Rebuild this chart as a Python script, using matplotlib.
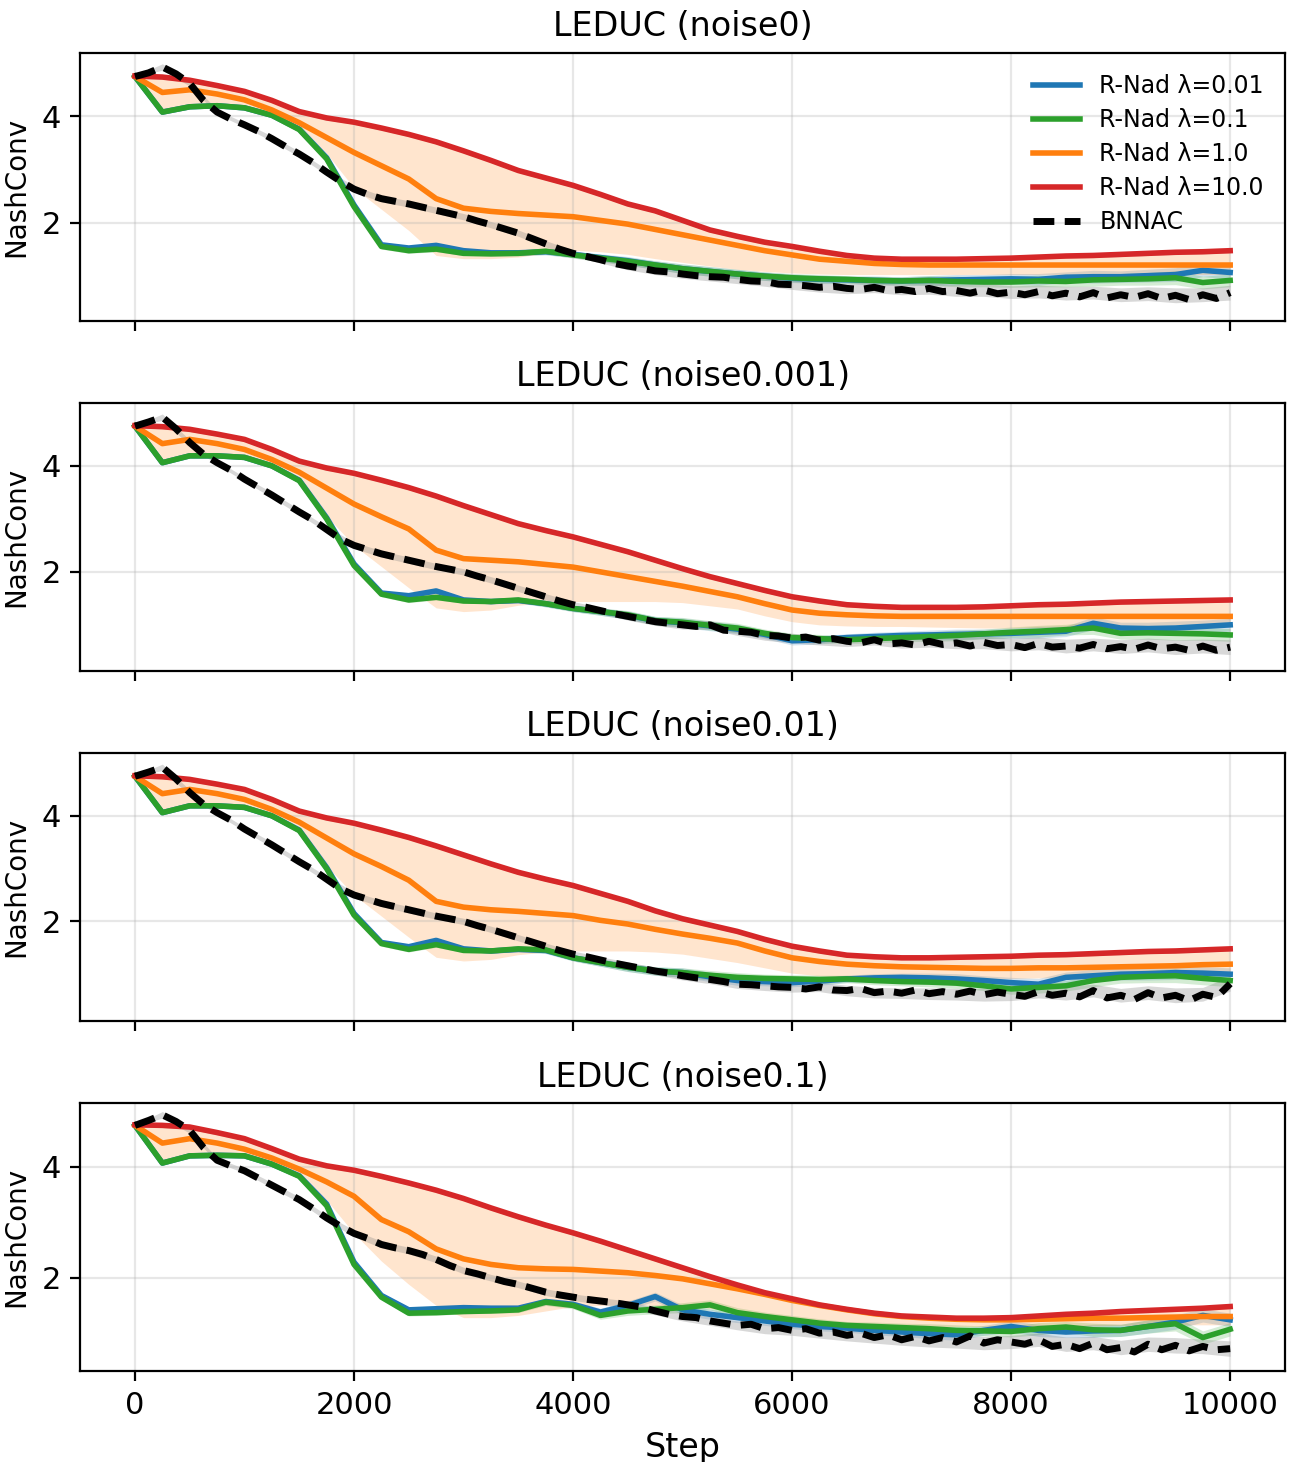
import numpy as np
import matplotlib
matplotlib.use("Agg")
import matplotlib.pyplot as plt

# steps: every 250 for the R-Nad curves, every 125 for BNNAC (it is noisier)
steps = list(range(0, 10001, 250))
steps_fine = list(range(0, 10001, 125))

titles = ["LEDUC (noise0)", "LEDUC (noise0.001)", "LEDUC (noise0.01)", "LEDUC (noise0.1)"]
labels = ["R-Nad λ=0.01", "R-Nad λ=0.1", "R-Nad λ=1.0", "R-Nad λ=10.0", "BNNAC"]

# ---- noise0 ----
blue_n0 = [4.75, 4.08, 4.18, 4.20, 4.16, 4.02, 3.76, 3.22, 2.33, 1.58,
           1.52, 1.57, 1.47, 1.43, 1.43, 1.45, 1.40, 1.34, 1.28, 1.20,
           1.13, 1.08, 1.03, 0.99, 0.95, 0.93, 0.92, 0.91, 0.90, 0.91,
           0.92, 0.93, 0.94, 0.93, 0.97, 0.98, 0.98, 1.00, 1.02, 1.10, 1.06]
green_n0 = [4.75, 4.08, 4.18, 4.20, 4.16, 4.02, 3.75, 3.20, 2.30, 1.55,
            1.47, 1.50, 1.42, 1.41, 1.42, 1.46, 1.39, 1.33, 1.27, 1.20,
            1.13, 1.08, 1.03, 0.99, 0.96, 0.94, 0.93, 0.91, 0.90, 0.91,
            0.89, 0.88, 0.88, 0.90, 0.89, 0.92, 0.93, 0.94, 0.96, 0.87, 0.91]
orange_n0 = [4.75, 4.45, 4.50, 4.42, 4.31, 4.12, 3.88, 3.60, 3.32, 3.07,
             2.82, 2.45, 2.27, 2.21, 2.17, 2.14, 2.11, 2.04, 1.97, 1.87,
             1.77, 1.67, 1.57, 1.47, 1.39, 1.31, 1.27, 1.23, 1.21, 1.20,
             1.20, 1.20, 1.20, 1.20, 1.20, 1.20, 1.20, 1.20, 1.20, 1.20, 1.20]
red_n0 = [4.76, 4.74, 4.68, 4.58, 4.47, 4.30, 4.09, 3.97, 3.89, 3.78,
          3.66, 3.52, 3.35, 3.17, 2.98, 2.84, 2.70, 2.53, 2.35, 2.22,
          2.04, 1.86, 1.74, 1.63, 1.55, 1.46, 1.38, 1.33, 1.31, 1.31,
          1.31, 1.32, 1.33, 1.35, 1.37, 1.38, 1.40, 1.42, 1.44, 1.45, 1.47]
bnnac_n0 = [4.75, 4.82, 4.93, 4.80, 4.62, 4.30, 4.08, 3.95, 3.84, 3.72,
            3.58, 3.43, 3.29, 3.13, 2.95, 2.78, 2.63, 2.53, 2.45, 2.40,
            2.35, 2.29, 2.23, 2.17, 2.11, 2.03, 1.96, 1.88, 1.80, 1.70,
            1.60, 1.50, 1.42, 1.36, 1.30, 1.23, 1.18, 1.14, 1.09, 1.07,
            1.03, 1.00, 0.98, 0.97, 0.93, 0.90, 0.89, 0.84, 0.83, 0.81,
            0.78, 0.80, 0.76, 0.74, 0.78, 0.72, 0.74, 0.70, 0.76, 0.70,
            0.72, 0.67, 0.73, 0.66, 0.69, 0.64, 0.70, 0.62, 0.67, 0.60,
            0.68, 0.58, 0.64, 0.59, 0.66, 0.57, 0.63, 0.55, 0.64, 0.57,
            0.68]
orange_lo_n0 = [4.75, 4.10, 4.18, 4.20, 4.16, 4.02, 3.75, 3.30, 2.65, 2.25,
                1.85, 1.38, 1.32, 1.32, 1.35, 1.42, 1.48, 1.45, 1.40, 1.32,
                1.25, 1.18, 1.12, 1.08, 1.05, 1.03, 1.02, 1.02, 1.02, 1.02,
                1.02, 1.02, 1.02, 1.02, 1.02, 1.02, 1.02, 1.02, 1.02, 1.02, 1.02]
orange_hi_n0 = [4.76, 4.74, 4.67, 4.57, 4.45, 4.28, 4.07, 3.95, 3.87, 3.76,
                3.64, 3.50, 3.33, 3.15, 2.96, 2.82, 2.68, 2.51, 2.33, 2.20,
                2.02, 1.84, 1.72, 1.61, 1.52, 1.42, 1.35, 1.31, 1.29, 1.29,
                1.29, 1.30, 1.31, 1.33, 1.35, 1.36, 1.38, 1.40, 1.42, 1.43, 1.45]

# ---- noise0.001 ----
blue_n1 = [4.75, 4.06, 4.19, 4.19, 4.16, 4.00, 3.73, 3.02, 2.15, 1.60,
           1.55, 1.64, 1.47, 1.44, 1.46, 1.40, 1.31, 1.25, 1.18, 1.08,
           1.04, 0.98, 0.92, 0.82, 0.70, 0.72, 0.76, 0.78, 0.80, 0.81,
           0.82, 0.83, 0.84, 0.86, 0.88, 1.03, 0.94, 0.93, 0.94, 0.97, 1.00]
green_n1 = [4.75, 4.06, 4.19, 4.19, 4.16, 4.00, 3.72, 3.00, 2.12, 1.58,
            1.47, 1.52, 1.45, 1.44, 1.47, 1.40, 1.31, 1.25, 1.19, 1.08,
            1.05, 0.99, 0.94, 0.84, 0.76, 0.74, 0.72, 0.74, 0.76, 0.78,
            0.80, 0.83, 0.86, 0.88, 0.91, 0.94, 0.84, 0.85, 0.84, 0.83, 0.81]
orange_n1 = [4.75, 4.42, 4.50, 4.42, 4.31, 4.12, 3.88, 3.58, 3.28, 3.04,
             2.81, 2.41, 2.25, 2.22, 2.19, 2.14, 2.09, 2.00, 1.91, 1.82,
             1.73, 1.63, 1.53, 1.40, 1.28, 1.22, 1.19, 1.17, 1.16, 1.16,
             1.16, 1.16, 1.16, 1.16, 1.16, 1.16, 1.16, 1.16, 1.16, 1.16, 1.16]
red_n1 = [4.76, 4.74, 4.69, 4.60, 4.50, 4.31, 4.09, 3.96, 3.86, 3.73,
          3.59, 3.43, 3.25, 3.08, 2.91, 2.78, 2.66, 2.52, 2.38, 2.22,
          2.06, 1.91, 1.78, 1.65, 1.53, 1.45, 1.38, 1.35, 1.33, 1.33,
          1.33, 1.34, 1.36, 1.38, 1.39, 1.41, 1.43, 1.44, 1.45, 1.46, 1.47]
bnnac_n1 = [4.75, 4.83, 4.92, 4.70, 4.44, 4.22, 4.06, 3.92, 3.75, 3.60,
            3.45, 3.29, 3.13, 2.98, 2.80, 2.62, 2.50, 2.42, 2.34, 2.28,
            2.22, 2.16, 2.10, 2.05, 2.00, 1.92, 1.85, 1.77, 1.69, 1.61,
            1.53, 1.45, 1.38, 1.33, 1.27, 1.21, 1.16, 1.11, 1.06, 1.03,
            1.00, 0.97, 1.00, 0.90, 0.88, 0.86, 0.80, 0.79, 0.75, 0.77,
            0.71, 0.74, 0.69, 0.66, 0.72, 0.64, 0.66, 0.62, 0.69, 0.63,
            0.66, 0.60, 0.67, 0.61, 0.63, 0.57, 0.65, 0.58, 0.60, 0.56,
            0.63, 0.55, 0.59, 0.54, 0.62, 0.55, 0.58, 0.52, 0.60, 0.52,
            0.58]
orange_lo_n1 = [4.75, 4.08, 4.19, 4.19, 4.16, 4.00, 3.72, 3.05, 2.50, 2.10,
                1.70, 1.32, 1.25, 1.28, 1.37, 1.42, 1.44, 1.44, 1.44, 1.44,
                1.42, 1.36, 1.30, 1.17, 1.06, 1.00, 0.98, 0.97, 0.97, 0.96,
                0.95, 0.94, 0.94, 0.95, 0.96, 0.97, 0.98, 0.98, 0.99, 1.00, 1.00]
orange_hi_n1 = [4.76, 4.74, 4.67, 4.58, 4.48, 4.29, 4.07, 3.94, 3.84, 3.71,
                3.57, 3.41, 3.23, 3.06, 2.89, 2.76, 2.64, 2.50, 2.36, 2.20,
                2.04, 1.89, 1.76, 1.63, 1.51, 1.43, 1.36, 1.33, 1.31, 1.31,
                1.31, 1.32, 1.34, 1.36, 1.37, 1.39, 1.41, 1.42, 1.43, 1.44, 1.45]

# ---- noise0.01 ----
blue_n2 = [4.75, 4.06, 4.19, 4.19, 4.16, 4.00, 3.73, 3.02, 2.15, 1.60,
           1.52, 1.64, 1.48, 1.44, 1.47, 1.45, 1.31, 1.22, 1.13, 1.06,
           1.03, 0.95, 0.88, 0.86, 0.84, 0.87, 0.91, 0.93, 0.94, 0.93,
           0.91, 0.88, 0.84, 0.81, 0.94, 0.97, 1.00, 1.01, 1.03, 1.02, 1.00]
green_n2 = [4.75, 4.06, 4.19, 4.19, 4.16, 4.00, 3.72, 3.00, 2.12, 1.58,
            1.47, 1.56, 1.45, 1.44, 1.48, 1.46, 1.31, 1.22, 1.13, 1.06,
            1.03, 0.98, 0.94, 0.92, 0.91, 0.90, 0.91, 0.88, 0.86, 0.85,
            0.83, 0.78, 0.72, 0.75, 0.78, 0.88, 0.94, 0.96, 0.97, 0.92, 0.88]
orange_n2 = [4.75, 4.42, 4.50, 4.42, 4.31, 4.12, 3.88, 3.58, 3.28, 3.04,
             2.78, 2.38, 2.27, 2.22, 2.19, 2.15, 2.11, 2.02, 1.95, 1.85,
             1.76, 1.68, 1.59, 1.44, 1.31, 1.24, 1.19, 1.16, 1.14, 1.13,
             1.12, 1.11, 1.11, 1.12, 1.12, 1.13, 1.14, 1.15, 1.16, 1.18, 1.19]
red_n2 = [4.76, 4.74, 4.69, 4.60, 4.50, 4.31, 4.09, 3.96, 3.86, 3.73,
          3.59, 3.43, 3.26, 3.09, 2.93, 2.80, 2.68, 2.53, 2.38, 2.20,
          2.05, 1.93, 1.81, 1.66, 1.53, 1.44, 1.36, 1.33, 1.31, 1.31,
          1.32, 1.33, 1.34, 1.36, 1.37, 1.39, 1.41, 1.43, 1.44, 1.46, 1.48]
bnnac_n2 = [4.75, 4.83, 4.92, 4.70, 4.44, 4.22, 4.06, 3.92, 3.75, 3.60,
            3.45, 3.29, 3.13, 2.98, 2.80, 2.62, 2.50, 2.42, 2.34, 2.28,
            2.22, 2.16, 2.10, 2.05, 2.00, 1.92, 1.85, 1.77, 1.69, 1.61,
            1.53, 1.45, 1.38, 1.33, 1.27, 1.21, 1.16, 1.11, 1.06, 1.02,
            0.97, 0.93, 0.90, 0.86, 0.81, 0.80, 0.78, 0.76, 0.75, 0.72,
            0.76, 0.70, 0.69, 0.73, 0.65, 0.68, 0.64, 0.70, 0.63, 0.67,
            0.62, 0.68, 0.61, 0.66, 0.62, 0.58, 0.67, 0.60, 0.64, 0.57,
            0.69, 0.55, 0.60, 0.52, 0.65, 0.55, 0.60, 0.50, 0.62, 0.56,
            0.82]
orange_lo_n2 = [4.75, 4.08, 4.19, 4.19, 4.16, 4.00, 3.72, 3.05, 2.50, 2.10,
                1.70, 1.32, 1.25, 1.28, 1.37, 1.42, 1.44, 1.44, 1.44, 1.42,
                1.38, 1.30, 1.22, 1.12, 1.02, 0.97, 0.95, 0.94, 0.94, 0.93,
                0.92, 0.92, 0.92, 0.93, 0.94, 0.95, 0.96, 0.97, 0.98, 0.99, 1.00]
orange_hi_n2 = [4.76, 4.74, 4.67, 4.58, 4.48, 4.29, 4.07, 3.94, 3.84, 3.71,
                3.57, 3.41, 3.24, 3.07, 2.91, 2.78, 2.66, 2.51, 2.36, 2.18,
                2.03, 1.91, 1.79, 1.64, 1.51, 1.42, 1.34, 1.31, 1.29, 1.29,
                1.30, 1.31, 1.32, 1.34, 1.35, 1.37, 1.39, 1.41, 1.42, 1.44, 1.46]

# ---- noise0.1 ----
blue_n3 = [4.75, 4.07, 4.20, 4.21, 4.20, 4.05, 3.84, 3.33, 2.28, 1.68,
           1.42, 1.44, 1.46, 1.45, 1.45, 1.57, 1.52, 1.38, 1.50, 1.66,
           1.42, 1.34, 1.28, 1.22, 1.16, 1.12, 1.09, 1.05, 1.02, 0.99,
           0.97, 1.05, 1.12, 1.05, 1.02, 1.04, 1.05, 1.12, 1.20, 1.32, 1.24]
green_n3 = [4.75, 4.07, 4.20, 4.21, 4.20, 4.05, 3.83, 3.30, 2.24, 1.65,
            1.36, 1.37, 1.39, 1.40, 1.42, 1.56, 1.50, 1.32, 1.40, 1.43,
            1.46, 1.51, 1.37, 1.30, 1.24, 1.18, 1.14, 1.12, 1.10, 1.08,
            1.05, 1.04, 1.03, 1.08, 1.11, 1.06, 1.05, 1.12, 1.17, 0.92, 1.07]
orange_n3 = [4.75, 4.43, 4.51, 4.43, 4.32, 4.16, 3.96, 3.73, 3.47, 3.05,
             2.83, 2.52, 2.34, 2.24, 2.18, 2.16, 2.15, 2.12, 2.09, 2.04,
             1.98, 1.89, 1.80, 1.70, 1.59, 1.50, 1.42, 1.35, 1.30, 1.27,
             1.25, 1.24, 1.24, 1.25, 1.26, 1.27, 1.27, 1.28, 1.29, 1.30, 1.30]
red_n3 = [4.76, 4.75, 4.72, 4.62, 4.51, 4.33, 4.14, 4.02, 3.94, 3.83,
          3.71, 3.58, 3.43, 3.26, 3.10, 2.95, 2.81, 2.66, 2.50, 2.34,
          2.18, 2.02, 1.87, 1.73, 1.62, 1.51, 1.43, 1.36, 1.31, 1.29,
          1.27, 1.27, 1.28, 1.31, 1.34, 1.36, 1.39, 1.41, 1.43, 1.45, 1.48]
bnnac_n3 = [4.75, 4.84, 4.94, 4.82, 4.66, 4.35, 4.12, 4.02, 3.93, 3.80,
            3.67, 3.54, 3.41, 3.25, 3.08, 2.93, 2.80, 2.71, 2.60, 2.54,
            2.49, 2.42, 2.33, 2.22, 2.13, 2.07, 2.00, 1.93, 1.88, 1.81,
            1.74, 1.69, 1.65, 1.61, 1.58, 1.55, 1.51, 1.47, 1.40, 1.34,
            1.30, 1.28, 1.22, 1.18, 1.14, 1.16, 1.08, 1.10, 1.05, 1.08,
            1.00, 1.02, 0.96, 1.00, 0.92, 0.97, 0.88, 0.94, 0.86, 0.92,
            0.84, 0.95, 0.82, 0.88, 0.84, 0.80, 0.88, 0.76, 0.80, 0.72,
            0.82, 0.70, 0.74, 0.66, 0.80, 0.70, 0.78, 0.68, 0.76, 0.70,
            0.72]
orange_lo_n3 = [4.75, 4.09, 4.20, 4.21, 4.20, 4.05, 3.83, 3.40, 2.80, 2.30,
                1.88, 1.50, 1.28, 1.28, 1.32, 1.40, 1.48, 1.50, 1.52, 1.50,
                1.50, 1.45, 1.38, 1.30, 1.25, 1.20, 1.15, 1.13, 1.12, 1.12,
                1.12, 1.12, 1.12, 1.12, 1.13, 1.13, 1.14, 1.14, 1.15, 1.15, 1.15]
orange_hi_n3 = [4.76, 4.75, 4.70, 4.60, 4.49, 4.31, 4.12, 4.00, 3.92, 3.81,
                3.69, 3.56, 3.41, 3.24, 3.08, 2.93, 2.79, 2.64, 2.48, 2.32,
                2.16, 2.00, 1.85, 1.71, 1.60, 1.49, 1.41, 1.34, 1.30, 1.29,
                1.28, 1.28, 1.29, 1.31, 1.34, 1.36, 1.39, 1.41, 1.43, 1.45, 1.47]

# half widths of the shaded bands (same for every panel)
spread_rnad = [0.01, 0.03, 0.03, 0.03, 0.03, 0.03, 0.04, 0.05, 0.06, 0.05,
               0.05, 0.05, 0.04, 0.04, 0.05, 0.06, 0.06, 0.07, 0.08, 0.08,
               0.09, 0.09, 0.09, 0.08, 0.08, 0.08, 0.07, 0.08, 0.08, 0.09,
               0.10, 0.09, 0.10, 0.11, 0.10, 0.12, 0.11, 0.12, 0.13, 0.12, 0.12]
spread_bnnac = [0.01, 0.06, 0.05, 0.04, 0.04, 0.05, 0.05, 0.05, 0.06, 0.06,
                0.06, 0.06, 0.06, 0.06, 0.06, 0.06, 0.06, 0.06, 0.07, 0.07,
                0.08, 0.08, 0.08, 0.09, 0.09, 0.09, 0.10, 0.10, 0.10, 0.11,
                0.11, 0.12, 0.12, 0.12, 0.13, 0.12, 0.13, 0.13, 0.14, 0.13, 0.14]
spread_red = 0.04

panels = [
    (blue_n0, green_n0, orange_n0, red_n0, bnnac_n0, orange_lo_n0, orange_hi_n0),
    (blue_n1, green_n1, orange_n1, red_n1, bnnac_n1, orange_lo_n1, orange_hi_n1),
    (blue_n2, green_n2, orange_n2, red_n2, bnnac_n2, orange_lo_n2, orange_hi_n2),
    (blue_n3, green_n3, orange_n3, red_n3, bnnac_n3, orange_lo_n3, orange_hi_n3),
]

x = np.array(steps)
xf = np.array(steps_fine)
sd = np.array(spread_rnad)
sdb = np.array(spread_bnnac)

fig, axes = plt.subplots(4, 1, figsize=(6.47, 7.31), dpi=200, sharex=True)
fig.subplots_adjust(left=0.062, right=0.993, top=0.964, bottom=0.062, hspace=0.306)

for ax, title, data in zip(axes, titles, panels):
    blue, green, orange, red, bnnac, o_lo, o_hi = [np.array(d) for d in data]

    # shaded bands first
    ax.fill_between(x, blue - sd, blue + sd, color="tab:blue", alpha=0.2, lw=0)
    ax.fill_between(x, green - sd, green + sd, color="tab:green", alpha=0.2, lw=0)
    ax.fill_between(x, o_lo, o_hi, color="tab:orange", alpha=0.2, lw=0)
    ax.fill_between(x, red - spread_red, red + spread_red, color="tab:red", alpha=0.2, lw=0)
    bn_coarse = bnnac[::2]
    ax.fill_between(x, bn_coarse - sdb, bn_coarse + sdb, color="gray", alpha=0.3, lw=0)

    ax.plot(x, blue, color="tab:blue", lw=2, label=labels[0])
    ax.plot(x, green, color="tab:green", lw=2, label=labels[1])
    ax.plot(x, orange, color="tab:orange", lw=2, label=labels[2])
    ax.plot(x, red, color="tab:red", lw=2, label=labels[3])
    ax.plot(xf, bnnac, color="black", lw=2.5, ls="--", dashes=(3, 1.5), label=labels[4])

    ax.set_title(title, fontsize=12)
    ax.set_ylabel("NashConv", fontsize=10)
    ax.grid(True, alpha=0.3)
    ax.set_yticks([2, 4])
    ax.tick_params(labelsize=11)

axes[0].set_ylim(0.15, 5.2)
axes[1].set_ylim(0.13, 5.19)
axes[2].set_ylim(0.11, 5.19)
axes[3].set_ylim(0.31, 5.15)
axes[0].set_xlim(-500, 10500)
axes[0].legend(loc="upper right", frameon=False, fontsize=8.5, labelspacing=0.43)
axes[-1].set_xlabel("Step", fontsize=12)

fig.savefig("out.png", dpi=200)
